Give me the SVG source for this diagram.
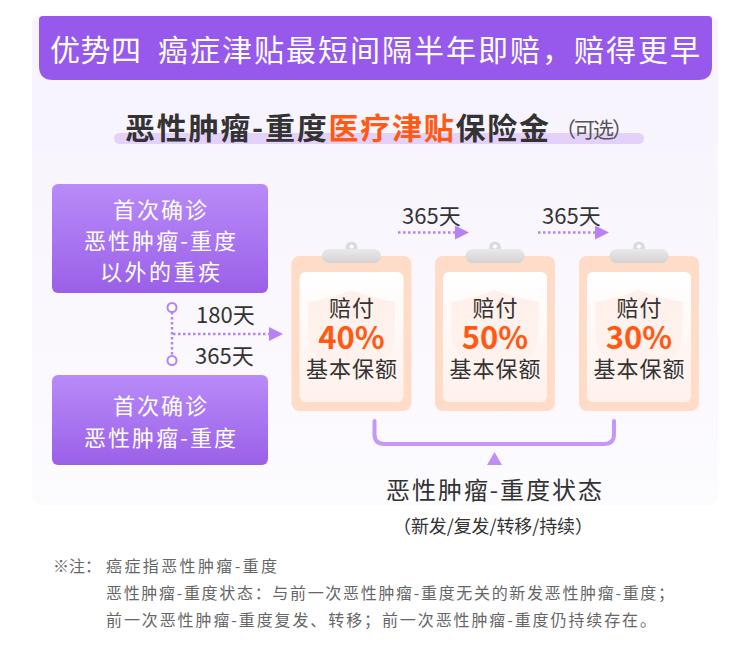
<svg xmlns="http://www.w3.org/2000/svg" width="750" height="654" viewBox="0 0 750 654">
<defs>
<linearGradient id="panelG" x1="0" y1="0" x2="0" y2="1"><stop offset="0" stop-color="#F7F2FD"/><stop offset="1" stop-color="#FCFBFE"/></linearGradient>
<linearGradient id="boxG" x1="0" y1="0" x2="0" y2="1"><stop offset="0" stop-color="#B98BF8"/><stop offset="1" stop-color="#9A60E8"/></linearGradient>
<linearGradient id="innerG" x1="0" y1="0" x2="0" y2="1"><stop offset="0" stop-color="#FFFFFF"/><stop offset="1" stop-color="#FFF1EC"/></linearGradient>
<linearGradient id="clipG" x1="0" y1="0" x2="0" y2="1"><stop offset="0" stop-color="#E9E9E9"/><stop offset="1" stop-color="#D3D3D3"/></linearGradient>
<linearGradient id="shieldG" x1="0" y1="0" x2="0" y2="1"><stop offset="0" stop-color="#FFE6DE" stop-opacity="0.6"/><stop offset="1" stop-color="#FFE6DE" stop-opacity="0.15"/></linearGradient>
<marker id="arr" viewBox="0 0 14 14" refX="0" refY="7" markerWidth="14" markerHeight="14" markerUnits="userSpaceOnUse" orient="auto"><path d="M0,0 L14,7 L0,14 Z" fill="#B682F6"/></marker>
</defs>
<style>
text{font-family:"Noto Sans CJK SC","Noto Sans",sans-serif;dominant-baseline:central}
.dot{stroke:#B682F6;stroke-width:2.5;stroke-dasharray:2.5 2.5;fill:none}
.lbl{font-size:22px;fill:#333}
.bw{fill:#fff;font-size:22px;text-anchor:middle}
.box{fill:url(#boxG)}
.outer{fill:#FFDCC7}
.inner{fill:url(#innerG)}
.shield{fill:url(#shieldG)}
.pill{fill:url(#clipG)}
.knob{fill:#DCDCDC}
.ct{font-size:22px;fill:#333;text-anchor:middle;letter-spacing:1px}
.pct{font-size:31px;font-weight:bold;fill:#FF5A14;letter-spacing:0}
.ring{fill:#fff;stroke:#B682F6;stroke-width:2}
.note{font-size:16px;fill:#666}
</style>
<rect x="32" y="16" width="686" height="489" rx="8" fill="url(#panelG)"/>
<g id="header">
<path d="M43,16 H708 Q712,16 712,20 V66 Q712,80 698,80 H53 Q39,80 39,66 V20 Q39,16 43,16 Z" fill="#9659EB"/>
<text x="50" y="48" font-size="30" fill="#fff" textLength="91">优势四</text>
<text x="158" y="48" font-size="30" fill="#fff" textLength="542">癌症津贴最短间隔半年即赔，赔得更早</text>
</g>
<g id="subtitle">
<rect x="114" y="133" width="530" height="11" rx="5.5" fill="#E4D1FA"/>
<text x="125" y="126" font-size="30" font-weight="bold" fill="#333" textLength="424">恶性肿瘤-重度<tspan fill="#FF5A14">医疗津贴</tspan>保险金</text>
<text x="555" y="128" font-size="21" fill="#555" textLength="78">（可选）</text>
</g>
<g id="box1">
<rect class="box" x="52" y="184" width="216" height="109" rx="6"/>
<text class="bw" x="160" y="208" textLength="94">首次确诊</text>
<text class="bw" x="160" y="239" textLength="152">恶性肿瘤-重度</text>
<text class="bw" x="160" y="270" textLength="120">以外的重疾</text>
</g>
<g id="box2">
<rect class="box" x="52" y="375" width="216" height="90" rx="6"/>
<text class="bw" x="160" y="404" textLength="94">首次确诊</text>
<text class="bw" x="160" y="436" textLength="152">恶性肿瘤-重度</text>
</g>
<g id="card1">
<rect class="outer" x="291.5" y="256" width="120" height="155" rx="8"/>
<rect class="inner" x="299.5" y="272" width="104" height="130" rx="6"/>
<path class="shield" d="M351.5,290 Q372,298 395,302 V335 Q395,362 351.5,378 Q308,362 308,335 V302 Q331,298 351.5,290 Z"/>
<circle class="knob" cx="351.5" cy="247.5" r="6"/>
<rect class="pill" x="322" y="249" width="59" height="14" rx="7"/>
<circle cx="351.5" cy="246.5" r="2" fill="#fff"/>
<text class="ct"><tspan x="352" y="306">赔付</tspan><tspan class="pct" x="351.5" y="335">40%</tspan><tspan x="352" y="367">基本保额</tspan></text>
</g>
<g id="card2">
<rect class="outer" x="435" y="256" width="120" height="155" rx="8"/>
<rect class="inner" x="443" y="272" width="104" height="130" rx="6"/>
<path class="shield" d="M495,290 Q515.5,298 538.5,302 V335 Q538.5,362 495,378 Q451.5,362 451.5,335 V302 Q474.5,298 495,290 Z"/>
<circle class="knob" cx="495" cy="247.5" r="6"/>
<rect class="pill" x="465.5" y="249" width="59" height="14" rx="7"/>
<circle cx="495" cy="246.5" r="2" fill="#fff"/>
<text class="ct"><tspan x="495.5" y="306">赔付</tspan><tspan class="pct" x="495" y="335">50%</tspan><tspan x="495.5" y="367">基本保额</tspan></text>
</g>
<g id="card3">
<rect class="outer" x="579" y="256" width="120" height="155" rx="8"/>
<rect class="inner" x="587" y="272" width="104" height="130" rx="6"/>
<path class="shield" d="M639,290 Q659.5,298 682.5,302 V335 Q682.5,362 639,378 Q595.5,362 595.5,335 V302 Q618.5,298 639,290 Z"/>
<circle class="knob" cx="639" cy="247.5" r="6"/>
<rect class="pill" x="609.5" y="249" width="59" height="14" rx="7"/>
<circle cx="639" cy="246.5" r="2" fill="#fff"/>
<text class="ct"><tspan x="639.5" y="306">赔付</tspan><tspan class="pct" x="639" y="335">30%</tspan><tspan x="639.5" y="367">基本保额</tspan></text>
</g>
<g id="connectors">
<line class="dot" x1="172" y1="312" x2="172" y2="356"/>
<line class="dot" x1="173" y1="334" x2="269" y2="334" marker-end="url(#arr)"/>
<circle class="ring" cx="172" cy="307.5" r="4.5"/>
<circle class="ring" cx="172" cy="360.5" r="4.5"/>
<text class="lbl" x="196" y="313">180天</text>
<text class="lbl" x="195" y="354">365天</text>
<line class="dot" x1="398" y1="232.5" x2="455" y2="232.5" marker-end="url(#arr)"/>
<text class="lbl" x="402" y="214">365天</text>
<line class="dot" x1="538" y1="232.5" x2="595" y2="232.5" marker-end="url(#arr)"/>
<text class="lbl" x="542" y="214">365天</text>
<path d="M374.5,421 V434 Q374.5,444 384.5,444 H604 Q614,444 614,434 V421" fill="none" stroke="#C597F8" stroke-width="4" stroke-linecap="round"/>
<path d="M494.5,452 L502,465 L487,465 Z" fill="#C08EF7"/>
</g>
<g id="state">
<text x="494" y="488" font-size="24" fill="#333" text-anchor="middle" textLength="216">恶性肿瘤-重度状态</text>
<text x="493" y="525" font-size="18" fill="#333" text-anchor="middle" textLength="200">（新发/复发/转移/持续）</text>
</g>
<g id="footnote">
<text class="note" x="53" y="565">※注：</text>
<text class="note" x="106" y="565" textLength="171">癌症指恶性肿瘤-重度</text>
<text class="note" x="106" y="592" textLength="568">恶性肿瘤-重度状态：与前一次恶性肿瘤-重度无关的新发恶性肿瘤-重度；</text>
<text class="note" x="106" y="619" textLength="550">前一次恶性肿瘤-重度复发、转移；前一次恶性肿瘤-重度仍持续存在。</text>
</g>
</svg>
